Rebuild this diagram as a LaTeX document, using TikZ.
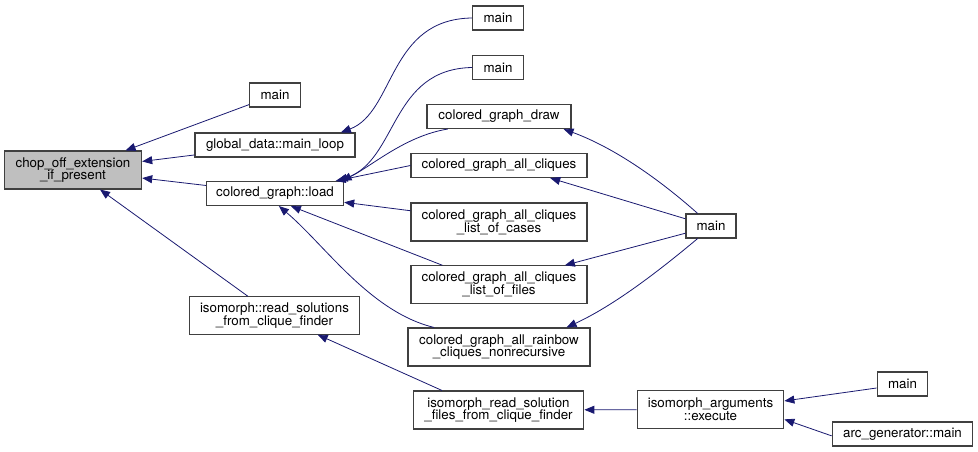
\documentclass[tikz,border=0pt]{standalone}
\usepackage{fontspec}
\setmainfont{TeX Gyre Heros}
\usetikzlibrary{arrows.meta}
\definecolor{edgeblue}{HTML}{191970}

\begin{document}
\begin{tikzpicture}[x=0.75pt, y=-0.75pt, >={Triangle[length=7.5pt,width=6pt]},
    fn/.style={draw=black!75, line width=0.8pt, fill=white, inner sep=0pt, align=center,
        font=\fontsize{10}{9.5}\selectfont, minimum height=18pt},
    call/.style={<-, draw=edgeblue, line width=0.6pt}]
    \useasboundingbox (0,0) rectangle (978,452);

    % Fonction de depart
    \node[fn, fill=black!25, minimum width=103pt, minimum height=28.5pt] (chop) at (73,170) {chop\_off\_extension\\\_if\_present};

    % Colonne 2
    \node[fn, minimum width=38pt] (mainA) at (275,95) {main};
    \node[fn, minimum width=120pt] (ml) at (275,145) {global\_data::main\_loop};
    \node[fn, minimum width=103pt] (load) at (275,193.5) {colored\_graph::load};
    \node[fn, minimum width=128pt, minimum height=28pt] (readsol) at (274.5,315.5) {isomorph::read\_solutions\\\_from\_clique\_finder};

    % Branches vers chop
    \draw[call] (chop) -- (mainA);
    \draw[call] (chop) -- (ml);
    \draw[call] (chop) -- (load);
    \draw[call] (chop) -- (readsol);

    % Colonne 3
    \node[fn, minimum width=38pt] (mainB) at (498,18) {main};
    \node[fn, minimum width=38pt] (mainC) at (498,67.5) {main};
    \node[fn, minimum width=108pt] (cgdraw) at (499,116.5) {colored\_graph\_draw};
    \node[fn, minimum width=132pt] (allc) at (499,165.5) {colored\_graph\_all\_cliques};
    \node[fn, minimum width=132pt, minimum height=28.5pt] (cases) at (499,222) {colored\_graph\_all\_cliques\\\_list\_of\_cases};
    \node[fn, minimum width=132pt, minimum height=28pt] (files) at (499,284.5) {colored\_graph\_all\_cliques\\\_list\_of\_files};
    \node[fn, minimum width=136.5pt, minimum height=28.5pt] (rainbow) at (499,347) {colored\_graph\_all\_rainbow\\\_cliques\_nonrecursive};
    \node[fn, minimum width=128pt, minimum height=28.5pt] (readfiles) at (498.5,410) {isomorph\_read\_solution\\\_files\_from\_clique\_finder};

    % Branches vers main_loop et load
    \draw[call] ([xshift=-11pt]ml.north east) .. controls (395,112) and (388,19) .. (mainB.west);
    \draw[call] ([xshift=-5pt]load.north east) .. controls (398,160) and (390,69) .. (mainC.west);
    \draw[call] ([xshift=-2pt]load.north east) .. controls (372,166) and (405,136) .. ([xshift=16pt]cgdraw.south west);
    \draw[call] (load) -- (allc.west);
    \draw[call] (load) -- (cases);
    \draw[call] ([xshift=-40pt]load.south east) -- ([xshift=24pt]files.north west);
    \draw[call] ([xshift=-49pt]load.south east) .. controls (325,245) and (370,312) .. ([xshift=20pt]rainbow.north west);
    \draw[call] ([xshift=-32pt]readsol.south east) -- ([xshift=22pt]readfiles.north west);

    % Colonne 4
    \node[fn, minimum width=37.5pt] (mainR) at (711,226) {main};
    \node[fn, minimum width=110pt, minimum height=28pt] (exec) at (710.5,409.5) {isomorph\_arguments\\::execute};

    \draw[call] ([xshift=-6pt]cgdraw.south east) .. controls (615,148) and (660,180) .. ([xshift=-10pt]mainR.north);
    \draw[call] ([xshift=-28pt]allc.south east) -- ([yshift=-4pt]mainR.north west);
    \draw[call] ([xshift=-17pt]files.north east) -- ([yshift=4pt]mainR.south west);
    \draw[call] ([xshift=-18pt]rainbow.north east) .. controls (615,305) and (660,270) .. ([xshift=-10pt]mainR.south);
    \draw[call] (readfiles) -- (exec);

    % Colonne 5
    \node[fn, minimum width=38pt] (mainD) at (902.5,384) {main};
    \node[fn, minimum width=105.5pt] (arc) at (902.5,434) {arc\_generator::main};

    \draw[call] ([yshift=-8pt]exec.north east) -- ([yshift=-3pt]mainD.west);
    \draw[call] ([yshift=7pt]exec.south east) -- ([yshift=8pt]arc.south west);
\end{tikzpicture}
\end{document}
